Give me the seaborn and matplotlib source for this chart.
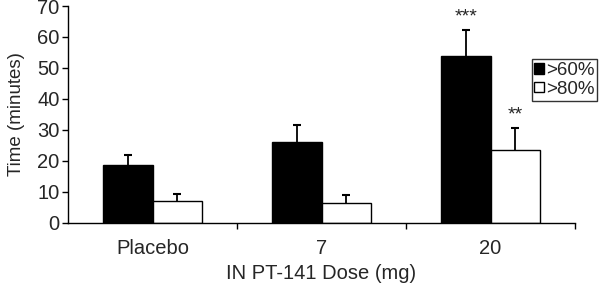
import matplotlib
matplotlib.use("Agg")
import matplotlib.pyplot as plt
import seaborn as sns
import pandas as pd
from matplotlib.patches import Patch

doses = ["Placebo", "7", "20"]
series = [">60%", ">80%"]
vals_60 = [18.6, 26.0, 53.8]
vals_80 = [7.0, 6.5, 23.6]
err_60 = [3.4, 5.5, 8.4]
err_80 = [2.4, 2.5, 7.0]
stars_60 = ["", "", "***"]
stars_80 = ["", "", "**"]

sns.set_style("ticks")
plt.rcParams['font.family'] = ['Liberation Sans', 'DejaVu Sans']
plt.rcParams['font.size'] = 14

df = pd.DataFrame({
    "dose": doses * 2,
    "series": [series[0]] * 3 + [series[1]] * 3,
    "value": vals_60 + vals_80,
})

fig = plt.figure(figsize=(6, 2.87), dpi=100)
ax = fig.add_axes([68 / 600, 1 - 222.7 / 287, (575 - 68) / 600, (222.7 - 6) / 287])

sns.barplot(data=df, x="dose", y="value", hue="series", order=doses,
            hue_order=series, palette=["black", "white"], edgecolor="black",
            linewidth=1.0, width=0.58, errorbar=None, legend=False, ax=ax)

errs = err_60 + err_80
stars = stars_60 + stars_80
bars = [p for p in ax.patches if p.get_height() > 0][:6]
bars_sorted = sorted(bars[:3], key=lambda p: p.get_x()) + sorted(bars[3:], key=lambda p: p.get_x())
for p, e, s in zip(bars_sorted, errs, stars):
    xc = p.get_x() + p.get_width() / 2
    h = p.get_height()
    cont = ax.errorbar(xc, h, yerr=[[0], [e]], fmt="none", ecolor="black",
                       elinewidth=1.3, capsize=3, capthick=1.5, zorder=3)
    caps = cont.lines[1]
    if len(caps) > 1:
        caps[0].set_visible(False)
    if s:
        ax.text(xc, h + e + 1.5, s, ha="center", va="bottom", fontsize=14)

ax.set_ylim(0, 70)
ax.set_yticks(range(0, 71, 10))
ax.set_xlim(-0.5, 2.5)
ax.set_xticks([0, 1, 2])
ax.set_xticklabels(doses)
ax.set_xticks([0.5, 1.5, 2.5], minor=True)
ax.tick_params(axis="x", which="major", length=0, pad=12, labelsize=14.5)
ax.tick_params(axis="x", which="minor", length=4, width=1, color="black", direction="out")
ax.tick_params(axis="y", length=4, width=1, color="black", direction="out", labelsize=14.5, pad=2)
ax.set_xlabel("IN PT-141 Dose (mg)", fontsize=14.5, labelpad=4)
ax.set_ylabel("Time (minutes)", fontsize=13.5, labelpad=9)
sns.despine(ax=ax)
for sp in ["left", "bottom"]:
    ax.spines[sp].set_color("black")
    ax.spines[sp].set_linewidth(1.0)

handles = [Patch(facecolor="black", edgecolor="black", label=series[0]),
           Patch(facecolor="white", edgecolor="black", label=series[1])]
leg = fig.legend(handles=handles, loc="upper right",
                 bbox_to_anchor=(597 / 600, 1 - 59 / 287), frameon=True,
                 fancybox=False, handlelength=0.5, handleheight=0.5,
                 handletextpad=0.1, borderpad=0.15, labelspacing=0.1,
                 borderaxespad=0, fontsize=13.5)
leg.get_frame().set_edgecolor("black")
leg.get_frame().set_linewidth(1.0)

fig.savefig("out.png", dpi=100)
